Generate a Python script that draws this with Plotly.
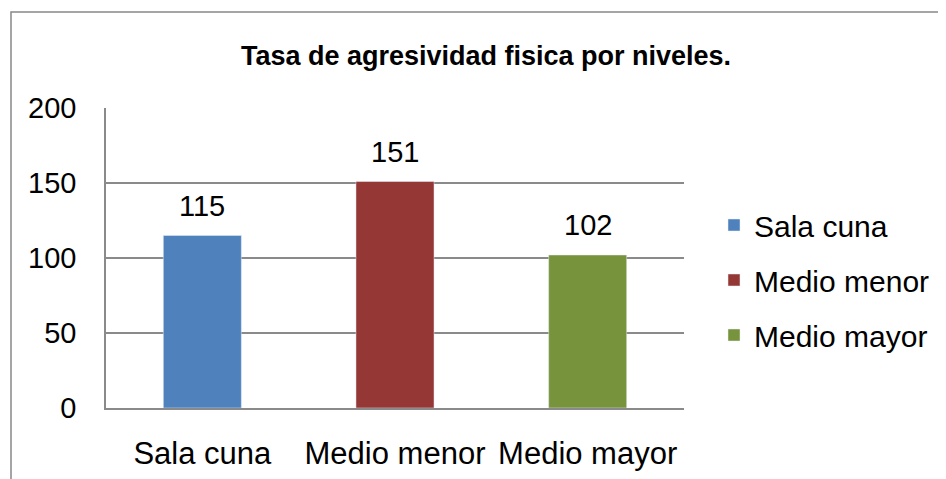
import plotly.graph_objects as go

categories = ["Sala cuna", "Medio menor", "Medio mayor"]
values = [115, 151, 102]
colors = ["#4F81BD", "#953735", "#77933C"]
y_ticks = [0, 50, 100, 150, 200]
title_text = "Tasa de agresividad fisica por niveles."

FONT = "Liberation Sans, Arial, sans-serif"
GRID = "#8a8a8a"

fig = go.Figure()
for i, (cat, val, col) in enumerate(zip(categories, values, colors)):
    fig.add_trace(go.Bar(
        x=[cat], y=[val], name=cat, marker_color=col, width=0.405,
        legendgroup=f"g{i}", showlegend=True,
    ))
    fig.add_annotation(
        x=cat, y=val, text=str(val), showarrow=False, yanchor="bottom",
        yshift=12, font=dict(family=FONT, size=29, color="#000000"),
    )

W, H = 946, 479
OFF = 8  # page offset of the figure
L, T = 106 - OFF, 108 - OFF
pw, ph = 578, 300
R, B = W - L - pw, H - T - ph

# outer chart border (left and top visible)
fig.add_shape(type="rect", xref="paper", yref="paper",
              x0=(11 - OFF - L) / pw, x1=(W + 40 - L) / pw,
              y0=-1.0, y1=1 + (T - (12 - OFF)) / ph,
              line=dict(color="#888888", width=1.5), layer="below")

fig.update_layout(
    width=W, height=H,
    margin=dict(l=L, r=R, t=T, b=B),
    paper_bgcolor="white", plot_bgcolor="white",
    barmode="overlay",
    font=dict(family=FONT, size=29, color="#000000"),
    title=dict(text="<b>" + title_text + "</b>", x=(486 - OFF) / W, xanchor="center",
               y=1 - (56 - OFF) / H, yanchor="middle",
               font=dict(family=FONT, size=27, color="#000000")),
    legend=dict(x=(714 - OFF - L) / pw, xanchor="left", y=1 - (280 - 108) / ph,
                yanchor="middle", traceorder="grouped", tracegroupgap=13,
                font=dict(family=FONT, size=30, color="#000000"),
                bgcolor="rgba(0,0,0,0)"),
    xaxis=dict(showline=True, linecolor=GRID, linewidth=1.5, showgrid=False,
               ticks="", ticklabelstandoff=17, tickfont=dict(size=31),
               categoryorder="array", categoryarray=categories),
    yaxis=dict(range=[0, 200], tickvals=y_ticks, showline=True, linecolor=GRID,
               linewidth=1.5, showgrid=True, gridcolor=GRID, gridwidth=1.5,
               zeroline=False, ticks="", ticklabelstandoff=22,
               tickfont=dict(size=29)),
)

fig.write_html("out.html")
